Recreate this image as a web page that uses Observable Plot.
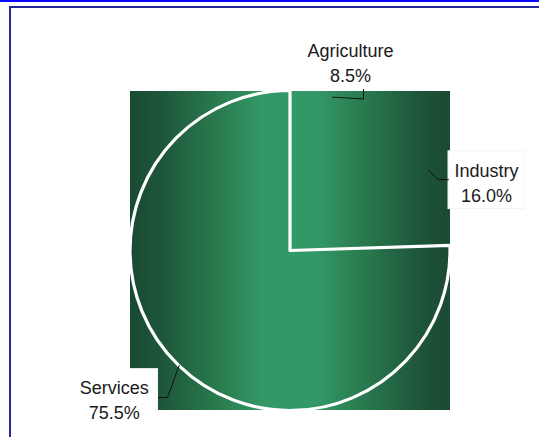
<!DOCTYPE html>
<html><head><meta charset="utf-8">
<script src="https://cdn.jsdelivr.net/npm/d3@7"></script>
<script src="https://cdn.jsdelivr.net/npm/@observablehq/plot@0.6"></script>
<style>
html,body{margin:0;padding:0;background:#fff;}
#wrap{position:relative;width:539px;height:437px;overflow:hidden;background:#fff;}
#chart svg{display:block;}
#topline{position:absolute;left:0;top:0;width:539px;height:2px;background:#0a0aff;z-index:2;}
#frame{position:absolute;left:9px;top:6px;width:600px;height:500px;border-left:2px solid #26269c;border-top:2px solid #26269c;z-index:2;}
</style></head><body>
<div id="wrap"><div id="chart"></div><div id="topline"></div><div id="frame"></div></div>
<script>
// ---- data ----
const categories = ["Agriculture", "Industry", "Services"];
const shares = [8.5, 16.0, 75.5];
const shareLabels = ["8.5%", "16.0%", "75.5%"];

// ---- layout (pixel offsets from each slice's outer mid-point) ----
const R = 160; // pie radius in px
const layout = {
  Agriculture: {elbow: [30.8, 1.8], end: [30.8, -7.7], label: [17.8, -35.7], box: [-27, 63, -63.7, -7.7], boxStroke: "none"},
  Industry:    {elbow: [10.3, 9.9], end: [20.3, 9.9], label: [58.3, 12.1], box: [20.3, 96.3, -18.6, 39.4], boxStroke: "#f2f4f3"},
  Services:    {elbow: [-11.7, 32.1], end: [-20.7, 32.1], label: [-65, 33.5], box: [-109.7, -20.7, 3.1, 64.1], boxStroke: "none"}
};

const arcs = d3.pie().sort(null).value(d => d)(shares);
const slices = categories.map((c, i) => {
  const a = arcs[i];
  const mid = (a.startAngle + a.endAngle) / 2;
  return {cat: c, pct: shareLabels[i], arc: a, px: Math.sin(mid), py: Math.cos(mid)};
});
const off = (s, o) => ({x: s.px + o[0] / R, y: s.py - o[1] / R});

const leaders = slices.flatMap(s => {
  const L = layout[s.cat];
  return [{cat: s.cat, x: s.px, y: s.py}, {cat: s.cat, ...off(s, L.elbow)}, {cat: s.cat, ...off(s, L.end)}];
});
const labels = slices.map(s => ({...off(s, layout[s.cat].label), text: `${s.cat}\n${s.pct}`}));
const boxes = slices.map(s => {
  const b = layout[s.cat].box;
  return {cat: s.cat, x1: s.px + b[0] / R, x2: s.px + b[1] / R, y1: s.py - b[2] / R, y2: s.py - b[3] / R};
});

function gradientDefs() {
  const g = d3.create("svg:defs");
  const lg = g.append("linearGradient").attr("id", "pieGrad").attr("x1", "0").attr("x2", "1").attr("y1", "0").attr("y2", "0");
  [[0, "#1a4a32"], [0.1, "#1e563a"], [0.3, "#2b8052"], [0.42, "#339868"], [0.58, "#339868"], [0.7, "#2b8052"], [0.9, "#1e563a"], [1, "#1a4a32"]]
    .forEach(([o, c]) => lg.append("stop").attr("offset", o).attr("stop-color", c));
  return g.node();
}

function servicesOutline(index, scales) {
  const cx = scales.x(0), cy = scales.y(0), r = scales.x(1) - scales.x(0);
  const g = d3.create("svg:g");
  const s = slices.find(d => d.cat === "Services");
  g.append("path")
    .attr("transform", `translate(${cx},${cy})`)
    .attr("d", d3.arc().innerRadius(0).outerRadius(r)(s.arc))
    .attr("fill", "none").attr("stroke", "white").attr("stroke-width", 3.2).attr("stroke-linejoin", "round");
  return g.node();
}

const plot = Plot.plot({
  width: 539, height: 437,
  margin: 0,
  x: {domain: [-1, 1], range: [130, 450], axis: null},
  y: {domain: [-1, 1], range: [410, 91], axis: null},
  style: {fontFamily: "'Liberation Sans', Arial, sans-serif", background: "transparent"},
  marks: [
    gradientDefs,
    Plot.rect([{x1: -1, x2: 1, y1: -1, y2: 1}], {x1: "x1", x2: "x2", y1: "y1", y2: "y2", fill: "url(#pieGrad)"}),
    servicesOutline,
    ...boxes.map(b => Plot.rect([b], {x1: "x1", x2: "x2", y1: "y1", y2: "y2", fill: "white", stroke: layout[b.cat].boxStroke, strokeWidth: 1})),
    Plot.line(leaders, {x: "x", y: "y", z: "cat", stroke: "#111", strokeWidth: 1}),
    Plot.text(labels, {x: "x", y: "y", text: "text", fontSize: 18, lineHeight: 1.38, fill: "#1a1a1a"})
  ]
});
document.getElementById("chart").appendChild(plot);
</script>
</body></html>
